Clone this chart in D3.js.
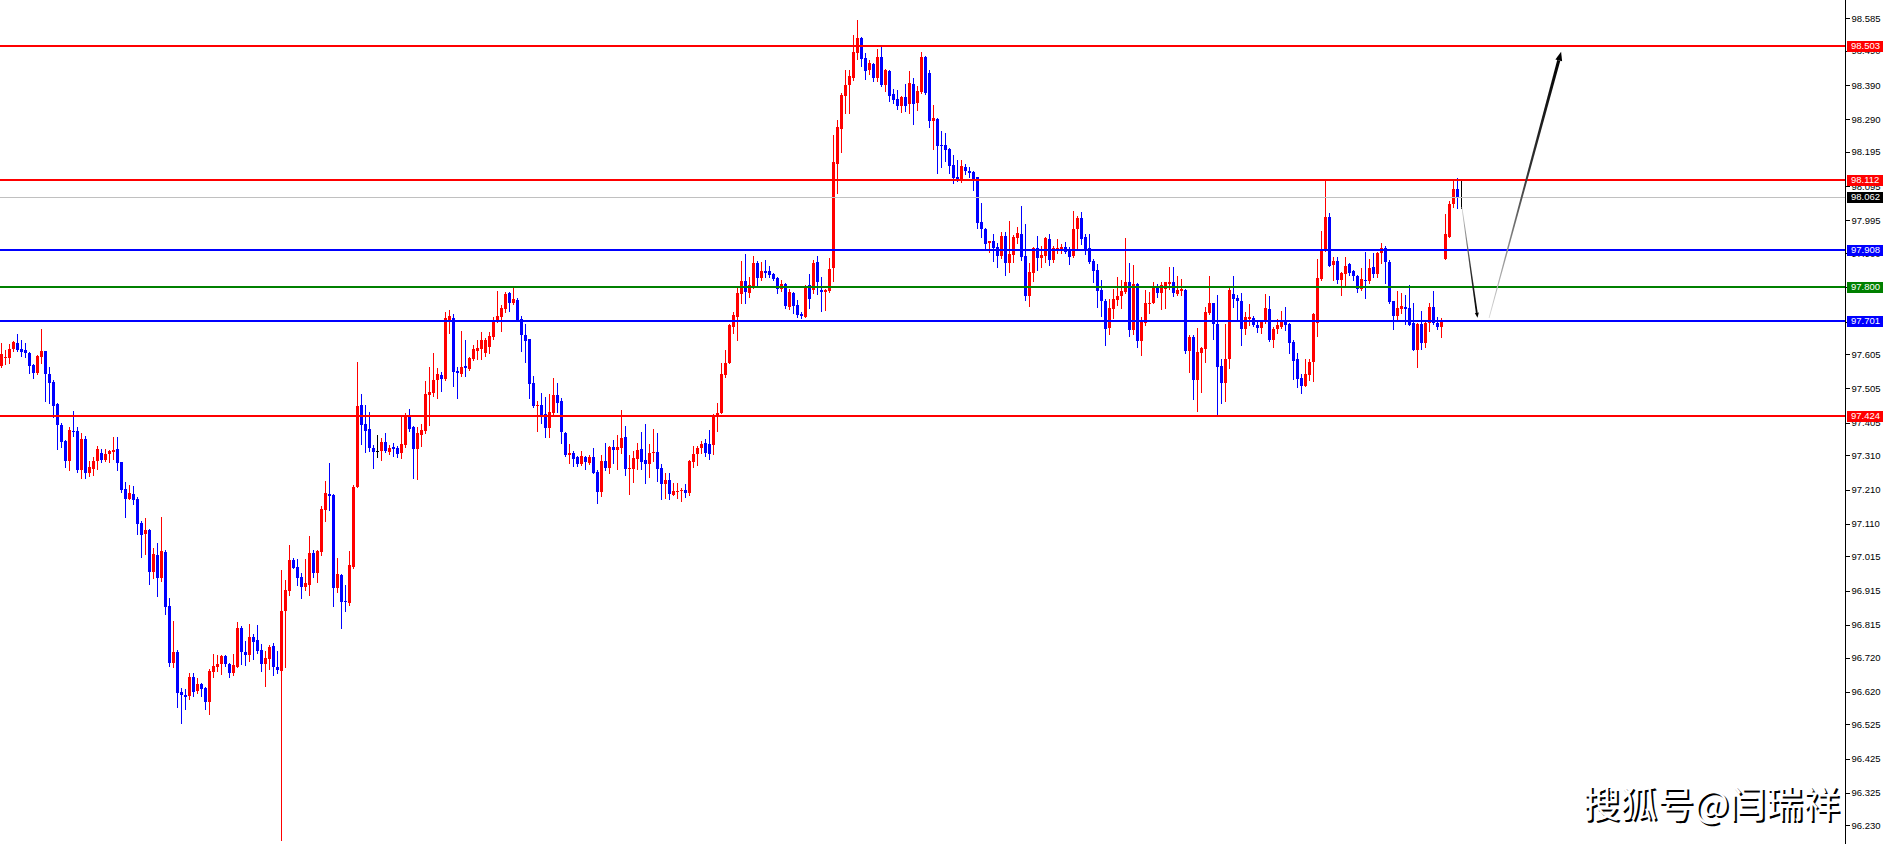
<!DOCTYPE html>
<html><head><meta charset="utf-8">
<script src="https://cdn.jsdelivr.net/npm/d3@7/dist/d3.min.js"></script>
<style>html,body{margin:0;padding:0;background:#fff;overflow:hidden}</style>
</head><body>
<svg id="chart" width="1888" height="844"></svg>
<script>
const openP = [
97.570,97.594,97.594,97.620,97.637,97.620,97.617,97.608,97.573,97.550,
97.597,97.614,97.547,97.524,97.459,97.398,97.352,97.293,97.381,97.381,
97.267,97.358,97.258,97.270,97.293,97.317,97.296,97.314,97.320,97.328,
97.290,97.212,97.183,97.197,97.183,97.113,97.080,97.092,96.970,97.019,
96.952,97.028,96.870,96.704,96.736,96.620,96.611,96.608,96.663,96.622,
96.643,96.631,96.590,96.678,96.692,96.701,96.725,96.701,96.675,96.692,
96.806,96.736,96.727,96.780,96.771,96.742,96.701,96.716,96.754,96.692,
96.681,96.856,96.914,97.005,96.984,96.955,96.926,96.932,97.025,96.967,
97.028,97.150,97.197,97.194,96.923,96.961,96.885,96.879,96.984,97.217,
97.457,97.401,97.387,97.331,97.322,97.322,97.349,97.320,97.334,97.331,
97.317,97.340,97.422,97.393,97.328,97.369,97.381,97.486,97.492,97.530,
97.544,97.532,97.699,97.710,97.556,97.547,97.570,97.562,97.591,97.614,
97.620,97.608,97.626,97.655,97.702,97.713,97.737,97.783,97.754,97.763,
97.707,97.661,97.649,97.521,97.454,97.457,97.430,97.390,97.433,97.486,
97.468,97.375,97.311,97.317,97.305,97.285,97.305,97.288,97.305,97.261,
97.203,97.293,97.273,97.334,97.325,97.331,97.363,97.270,97.270,97.299,
97.328,97.296,97.285,97.317,97.320,97.273,97.226,97.238,97.194,97.203,
97.206,97.209,97.200,97.290,97.314,97.331,97.346,97.343,97.340,97.425,
97.433,97.544,97.579,97.684,97.713,97.780,97.818,97.783,97.804,97.871,
97.827,97.848,97.848,97.839,97.827,97.795,97.810,97.743,97.783,97.748,
97.722,97.713,97.807,97.792,97.874,97.792,97.786,97.789,97.856,98.160,
98.262,98.358,98.390,98.410,98.483,98.527,98.469,98.434,98.451,98.410,
98.472,98.390,98.431,98.364,98.349,98.329,98.355,98.335,98.393,98.338,
98.370,98.472,98.425,98.285,98.291,98.215,98.215,98.203,98.157,98.122,
98.116,98.151,98.139,98.136,98.122,97.990,97.970,97.929,97.935,97.918,
97.891,97.950,97.871,97.894,97.944,97.955,97.891,97.775,97.842,97.915,
97.885,97.891,97.941,97.880,97.909,97.906,97.918,97.909,97.891,97.970,
98.002,97.947,97.915,97.877,97.850,97.792,97.760,97.681,97.737,97.763,
97.775,97.786,97.815,97.675,97.810,97.643,97.696,97.751,97.754,97.801,
97.783,97.795,97.810,97.815,97.780,97.789,97.792,97.614,97.655,97.530,
97.608,97.620,97.725,97.754,97.693,97.570,97.521,97.591,97.780,97.769,
97.760,97.678,97.707,97.710,97.690,97.681,97.699,97.737,97.646,97.678,
97.684,97.705,97.693,97.640,97.591,97.535,97.512,97.544,97.582,97.696,
97.824,97.909,98.005,97.865,97.877,97.821,97.839,97.868,97.848,97.833,
97.795,97.821,97.818,97.859,97.839,97.900,97.915,97.874,97.760,97.716,
97.737,97.743,97.740,97.696,97.617,97.693,97.637,97.696,97.743,97.696,
97.684,97.883,97.947,98.043,98.087,98.063];
const highP = [
97.637,97.617,97.634,97.643,97.663,97.646,97.637,97.611,97.576,97.602,
97.678,97.614,97.567,97.530,97.462,97.404,97.355,97.393,97.439,97.393,
97.375,97.366,97.293,97.305,97.337,97.328,97.328,97.325,97.363,97.363,
97.290,97.232,97.223,97.220,97.188,97.118,97.127,97.095,97.040,97.054,
97.130,97.034,96.894,96.827,96.742,96.631,96.628,96.675,96.675,96.660,
96.646,96.634,96.687,96.730,96.727,96.727,96.727,96.704,96.730,96.824,
96.812,96.768,96.818,96.789,96.815,96.760,96.739,96.757,96.762,96.739,
96.975,96.946,97.048,97.011,97.008,96.967,97.008,97.075,97.034,97.034,
97.162,97.235,97.288,97.197,97.011,96.964,96.932,97.031,97.223,97.582,
97.489,97.457,97.436,97.340,97.369,97.360,97.375,97.340,97.346,97.337,
97.425,97.433,97.445,97.396,97.393,97.401,97.527,97.567,97.608,97.565,
97.553,97.728,97.734,97.722,97.567,97.673,97.646,97.597,97.632,97.646,
97.670,97.652,97.670,97.713,97.789,97.748,97.786,97.786,97.798,97.769,
97.716,97.693,97.649,97.541,97.468,97.492,97.480,97.489,97.535,97.521,
97.477,97.378,97.343,97.322,97.308,97.322,97.308,97.311,97.331,97.267,
97.311,97.346,97.337,97.355,97.369,97.442,97.396,97.311,97.322,97.346,
97.378,97.401,97.343,97.387,97.375,97.285,97.258,97.258,97.229,97.229,
97.215,97.226,97.296,97.337,97.337,97.352,97.358,97.384,97.430,97.462,
97.579,97.617,97.693,97.728,97.801,97.877,97.897,97.830,97.891,97.877,
97.874,97.880,97.862,97.842,97.830,97.821,97.813,97.795,97.786,97.763,
97.728,97.807,97.839,97.880,97.891,97.830,97.795,97.885,98.244,98.288,
98.367,98.434,98.434,98.536,98.580,98.530,98.483,98.463,98.454,98.495,
98.507,98.437,98.434,98.378,98.376,98.358,98.393,98.431,98.411,98.387,
98.486,98.475,98.434,98.332,98.294,98.256,98.250,98.206,98.186,98.171,
98.171,98.160,98.151,98.139,98.122,98.046,97.973,97.935,97.955,97.929,
97.961,97.961,97.993,97.952,97.976,98.037,97.985,97.871,97.918,97.950,
97.920,97.947,97.955,97.920,97.941,97.926,97.932,97.918,98.023,98.008,
98.020,97.955,97.955,97.883,97.868,97.821,97.766,97.766,97.795,97.830,
97.821,97.944,97.871,97.865,97.813,97.713,97.792,97.786,97.815,97.810,
97.815,97.815,97.859,97.859,97.833,97.824,97.795,97.661,97.661,97.681,
97.626,97.743,97.833,97.754,97.778,97.591,97.693,97.798,97.833,97.778,
97.783,97.728,97.751,97.716,97.699,97.705,97.780,97.775,97.684,97.707,
97.731,97.743,97.696,97.646,97.608,97.547,97.591,97.591,97.725,97.883,
97.964,98.113,98.017,97.888,97.888,97.845,97.888,97.871,97.850,97.836,
97.856,97.903,97.883,97.900,97.903,97.929,97.920,97.880,97.760,97.789,
97.783,97.778,97.807,97.754,97.696,97.731,97.702,97.754,97.789,97.713,
97.710,98.014,98.052,98.110,98.119,98.113];
const lowP = [
97.568,97.576,97.579,97.614,97.614,97.599,97.597,97.550,97.535,97.547,
97.579,97.468,97.462,97.422,97.328,97.334,97.276,97.267,97.366,97.261,
97.244,97.244,97.250,97.253,97.270,97.290,97.293,97.290,97.299,97.267,
97.203,97.130,97.183,97.168,97.080,97.013,97.022,96.935,96.952,96.900,
96.943,96.847,96.695,96.692,96.576,96.529,96.570,96.599,96.608,96.617,
96.608,96.570,96.555,96.663,96.681,96.672,96.695,96.663,96.669,96.692,
96.701,96.698,96.710,96.716,96.733,96.681,96.637,96.687,96.669,96.675,
96.188,96.692,96.903,96.981,96.932,96.894,96.917,96.903,96.955,96.940,
97.019,97.118,97.150,96.870,96.911,96.806,96.856,96.873,96.981,97.217,
97.343,97.320,97.322,97.273,97.305,97.296,97.320,97.314,97.308,97.305,
97.302,97.334,97.381,97.244,97.241,97.337,97.375,97.398,97.483,97.477,
97.498,97.530,97.667,97.512,97.477,97.541,97.541,97.559,97.588,97.591,
97.591,97.599,97.608,97.649,97.699,97.673,97.728,97.731,97.751,97.702,
97.614,97.582,97.477,97.451,97.381,97.404,97.363,97.363,97.430,97.436,
97.346,97.308,97.288,97.279,97.279,97.282,97.270,97.285,97.258,97.171,
97.191,97.267,97.258,97.288,97.270,97.317,97.253,97.197,97.232,97.270,
97.270,97.229,97.247,97.293,97.235,97.183,97.186,97.183,97.194,97.186,
97.177,97.188,97.194,97.276,97.282,97.317,97.308,97.299,97.314,97.381,
97.433,97.538,97.579,97.667,97.646,97.754,97.754,97.772,97.798,97.801,
97.821,97.830,97.830,97.821,97.783,97.789,97.740,97.737,97.725,97.713,
97.710,97.713,97.740,97.783,97.780,97.731,97.734,97.786,97.818,98.075,
98.195,98.308,98.308,98.405,98.466,98.445,98.408,98.422,98.402,98.402,
98.387,98.373,98.343,98.338,98.320,98.311,98.314,98.308,98.276,98.317,
98.367,98.364,98.268,98.203,98.133,98.151,98.168,98.133,98.104,98.110,
98.107,98.130,98.122,98.084,97.973,97.947,97.912,97.903,97.877,97.859,
97.885,97.836,97.845,97.874,97.929,97.880,97.763,97.745,97.818,97.850,
97.859,97.874,97.865,97.874,97.900,97.900,97.900,97.868,97.888,97.915,
97.926,97.897,97.871,97.815,97.743,97.716,97.632,97.664,97.710,97.748,
97.740,97.783,97.658,97.664,97.626,97.602,97.690,97.725,97.754,97.772,
97.737,97.740,97.795,97.775,97.778,97.778,97.608,97.553,97.474,97.439,
97.495,97.582,97.722,97.649,97.427,97.462,97.468,97.565,97.743,97.705,
97.632,97.664,97.690,97.687,97.670,97.667,97.696,97.643,97.626,97.667,
97.681,97.675,97.608,97.532,97.509,97.492,97.512,97.530,97.527,97.658,
97.821,97.906,97.862,97.821,97.813,97.778,97.801,97.836,97.821,97.786,
97.792,97.769,97.813,97.830,97.830,97.871,97.813,97.754,97.678,97.705,
97.725,97.693,97.690,97.617,97.567,97.620,97.626,97.673,97.693,97.678,
97.655,97.883,97.947,98.034,98.031,98.031];
const closeP = [
97.605,97.597,97.620,97.640,97.617,97.611,97.608,97.570,97.550,97.599,
97.614,97.547,97.521,97.454,97.398,97.349,97.293,97.384,97.378,97.267,
97.358,97.258,97.276,97.293,97.328,97.296,97.314,97.322,97.325,97.288,
97.209,97.183,97.200,97.180,97.110,97.078,97.092,96.970,97.022,96.952,
97.031,96.867,96.704,96.736,96.617,96.611,96.605,96.663,96.620,96.643,
96.628,96.590,96.681,96.695,96.701,96.725,96.701,96.675,96.698,96.806,
96.736,96.727,96.780,96.765,96.739,96.701,96.719,96.751,96.692,96.684,
96.856,96.917,97.005,96.981,96.952,96.926,96.938,97.025,96.967,97.031,
97.153,97.200,97.191,96.923,96.964,96.882,96.882,96.990,97.217,97.454,
97.398,97.381,97.331,97.320,97.322,97.349,97.322,97.331,97.328,97.314,
97.343,97.422,97.387,97.328,97.375,97.384,97.489,97.495,97.530,97.547,
97.532,97.710,97.716,97.553,97.550,97.567,97.565,97.594,97.620,97.623,
97.646,97.646,97.658,97.705,97.716,97.740,97.780,97.754,97.766,97.702,
97.661,97.643,97.518,97.454,97.458,97.422,97.390,97.436,97.486,97.462,
97.378,97.311,97.317,97.299,97.285,97.308,97.290,97.305,97.258,97.203,
97.293,97.273,97.334,97.325,97.334,97.360,97.270,97.273,97.302,97.325,
97.290,97.285,97.317,97.320,97.270,97.226,97.238,97.197,97.206,97.206,
97.209,97.200,97.293,97.314,97.331,97.343,97.317,97.314,97.425,97.433,
97.547,97.579,97.690,97.719,97.783,97.818,97.786,97.807,97.871,97.827,
97.848,97.842,97.836,97.824,97.795,97.810,97.745,97.786,97.745,97.719,
97.716,97.801,97.766,97.871,97.815,97.786,97.792,97.853,98.165,98.268,
98.361,98.390,98.416,98.486,98.527,98.466,98.431,98.454,98.410,98.472,
98.390,98.434,98.358,98.346,98.329,98.355,98.329,98.396,98.335,98.373,
98.472,98.367,98.285,98.294,98.212,98.212,98.200,98.154,98.119,98.116,
98.154,98.139,98.133,98.116,97.988,97.970,97.926,97.935,97.915,97.891,
97.950,97.871,97.897,97.947,97.958,97.888,97.775,97.845,97.915,97.885,
97.894,97.944,97.880,97.915,97.915,97.918,97.903,97.888,97.970,98.002,
97.941,97.909,97.874,97.848,97.789,97.760,97.678,97.740,97.766,97.775,
97.789,97.815,97.675,97.810,97.643,97.699,97.754,97.755,97.801,97.783,
97.807,97.815,97.815,97.783,97.792,97.795,97.614,97.655,97.530,97.611,
97.623,97.728,97.754,97.693,97.567,97.521,97.591,97.792,97.766,97.760,
97.678,97.713,97.713,97.690,97.681,97.699,97.740,97.646,97.678,97.690,
97.702,97.690,97.637,97.585,97.532,97.512,97.547,97.582,97.722,97.827,
97.909,98.005,97.862,97.877,97.821,97.842,97.862,97.842,97.833,97.795,
97.824,97.818,97.856,97.839,97.900,97.915,97.874,97.757,97.716,97.740,
97.745,97.737,97.690,97.617,97.693,97.637,97.696,97.743,97.696,97.684,
97.699,97.955,98.043,98.087,98.063,98.063];

const tickValues = [98.585,98.490,98.390,98.290,98.195,98.095,97.995,97.900,97.800,97.700,
  97.605,97.505,97.405,97.310,97.210,97.110,97.015,96.915,96.815,96.720,96.620,96.525,96.425,96.325,96.230];
const levelPrices = [98.503, 98.112, 97.908, 97.800, 97.701, 97.424];
const currentPrice = 98.062;
const arrowDown = [[365.1, 98.034], [369.0, 97.711]];
const arrowUp = [[371.9, 97.711], [389.9, 98.487]];
const watermark = "搜狐号@闫瑞祥";

// ---- styles (kept apart from data) ----
const levelColors = ["#ff0000", "#ff0000", "#0000ff", "#008000", "#0000ff", "#ff0000"];
const upColor = "#ff0000", downColor = "#0000ff", dojiColor = "#000000";

const W = 1888, H = 844, axisX = 1845;
const svg = d3.select("#chart");
const x = d3.scaleLinear().domain([0, 460]).range([1.5, 1841.5]);
const y = d3.scaleLinear().domain([96.176, 98.638]).range([H, 0]);

const data = openP.map((o, i) => ({i, o, h: highP[i], l: lowP[i], c: closeP[i]}));

const gC = svg.append("g").attr("shape-rendering", "crispEdges");
const col = d => d.c > d.o ? upColor : (d.c < d.o ? downColor : dojiColor);
gC.selectAll("rect.wick").data(data).join("rect").attr("class", "wick")
  .attr("x", d => Math.round(x(d.i) - 0.5))
  .attr("width", 1)
  .attr("y", d => Math.round(y(d.h)))
  .attr("height", d => Math.max(1, Math.round(y(d.l)) - Math.round(y(d.h)) + 1))
  .attr("fill", col);
gC.selectAll("rect.body").data(data).join("rect").attr("class", "body")
  .attr("x", d => Math.round(x(d.i) - 1.5))
  .attr("width", 3)
  .attr("y", d => Math.round(y(Math.max(d.o, d.c))))
  .attr("height", d => Math.max(1, Math.round(y(Math.min(d.o, d.c))) - Math.round(y(Math.max(d.o, d.c)))))
  .attr("fill", col);

// current price line
svg.append("line").attr("x1", 0).attr("x2", axisX)
  .attr("y1", Math.round(y(currentPrice)) + 0.5).attr("y2", Math.round(y(currentPrice)) + 0.5)
  .attr("stroke", "#c0c0c0").attr("stroke-width", 1);

// horizontal levels
svg.append("g").selectAll("line").data(levelPrices).join("line")
  .attr("x1", 0).attr("x2", axisX)
  .attr("y1", d => Math.round(y(d))).attr("y2", d => Math.round(y(d)))
  .attr("stroke", (d, k) => levelColors[k]).attr("stroke-width", 2);

// arrows (tapered, gradient from light to black)
const defs = svg.append("defs");
function arrow(pts, id, w0, w1, headLen, headW) {
  const x0 = x(pts[0][0]), y0 = y(pts[0][1]), x1 = x(pts[1][0]), y1 = y(pts[1][1]);
  const g = defs.append("linearGradient").attr("id", id).attr("gradientUnits", "userSpaceOnUse")
    .attr("x1", x0).attr("y1", y0).attr("x2", x1).attr("y2", y1);
  g.append("stop").attr("offset", 0).attr("stop-color", "#d8d8d8");
  g.append("stop").attr("offset", 0.55).attr("stop-color", "#333");
  g.append("stop").attr("offset", 1).attr("stop-color", "#000");
  const dx = x1 - x0, dy = y1 - y0, L = Math.hypot(dx, dy);
  const ux = dx / L, uy = dy / L, nx = -uy, ny = ux;
  const bx = x1 - ux * headLen, by = y1 - uy * headLen;
  const poly = [[x0 + nx * w0 / 2, y0 + ny * w0 / 2], [bx + nx * w1 / 2, by + ny * w1 / 2],
    [bx - nx * w1 / 2, by - ny * w1 / 2], [x0 - nx * w0 / 2, y0 - ny * w0 / 2]];
  svg.append("path").attr("d", "M" + poly.map(p => p.join(",")).join("L") + "Z").attr("fill", `url(#${id})`);
  const head = [[x1, y1], [bx + nx * headW / 2, by + ny * headW / 2], [bx - nx * headW / 2, by - ny * headW / 2]];
  svg.append("path").attr("d", "M" + head.map(p => p.join(",")).join("L") + "Z").attr("fill", "#000");
}
arrow(arrowDown, "gDown", 0.8, 1.8, 5, 4);
arrow(arrowUp, "gUp", 0.8, 3.2, 9, 7);

// axis
svg.append("rect").attr("x", axisX).attr("y", 0).attr("width", W - axisX).attr("height", H).attr("fill", "#fff");
const axis = d3.axisRight(y).tickValues(tickValues).tickSize(4).tickPadding(2).tickFormat(d3.format(".3f"));
const ga = svg.append("g").attr("transform", `translate(${axisX + 0.5},0)`).call(axis);
ga.select(".domain").attr("stroke", "#000").attr("d", `M0,0V${H}`);
ga.selectAll(".tick line").attr("stroke", "#000").attr("shape-rendering", "crispEdges");
ga.selectAll(".tick text").attr("font-family", "'Liberation Sans', Arial, sans-serif").attr("font-size", 9.5).attr("fill", "#000");

// highlighted labels
const tagPrices = levelPrices.concat([currentPrice]);
const tagColors = levelColors.concat(["#000000"]);
const gt = svg.append("g");
tagPrices.forEach((p, k) => {
  const yy = Math.round(y(p));
  gt.append("rect").attr("x", axisX + 2).attr("y", yy - 5.5).attr("width", 36).attr("height", 11)
    .attr("fill", tagColors[k]).attr("shape-rendering", "crispEdges");
  gt.append("text").attr("x", axisX + 6).attr("y", yy).attr("dy", "0.35em")
    .attr("font-family", "'Liberation Sans', Arial, sans-serif").attr("font-size", 9.5)
    .attr("fill", "#fff").text(d3.format(".3f")(p));
});

// watermark
const wm = svg.append("g").attr("font-family", "'Noto Sans CJK SC', sans-serif").attr("font-size", 37).attr("text-anchor", "end");
wm.append("text").attr("x", 1842).attr("y", 820).attr("fill", "#000").text(watermark);
wm.append("text").attr("x", 1840).attr("y", 818).attr("fill", "#fff").text(watermark);
</script>
</body></html>
